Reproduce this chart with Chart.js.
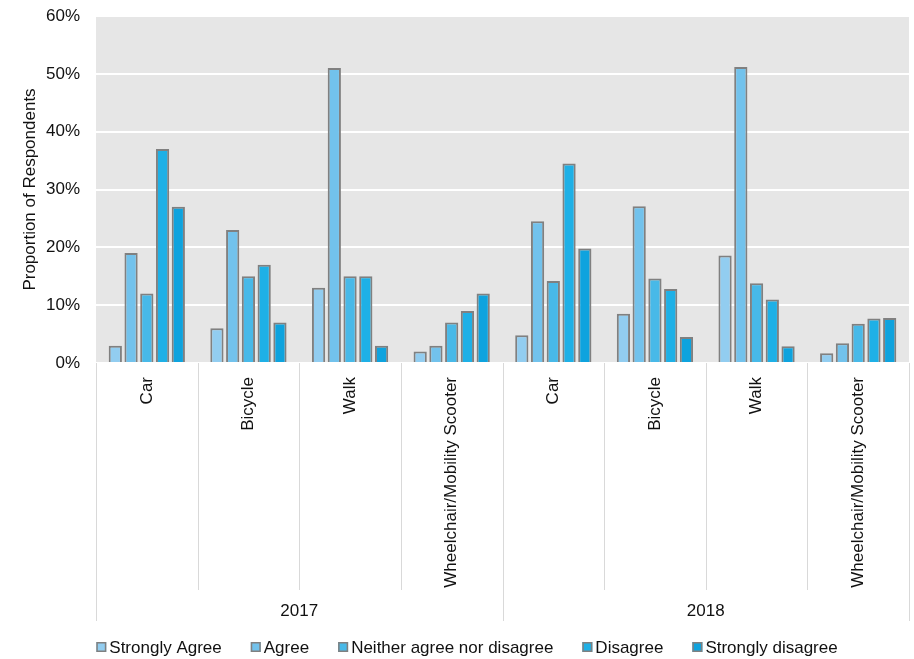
<!DOCTYPE html>
<html>
<head>
<meta charset="utf-8">
<title>Proportion of Respondents</title>
<script src="https://cdn.jsdelivr.net/npm/chart.js@4/dist/chart.umd.min.js"></script>
<style>
  html, body { margin: 0; padding: 0; background: #fff; }
  canvas { display: block; }
</style>
</head>
<body>
<canvas id="myChart" width="914" height="659"></canvas>
<script>
// modes of travel, repeated once per survey year
const modes = ['Car', 'Bicycle', 'Walk', 'Wheelchair/Mobility Scooter'];
const years = ['2017', '2018'];
const labels = [...modes, ...modes];

// percentage of respondents per answer (2017 then 2018)
const stronglyAgree    = [3, 6, 13, 2, 4.8, 8.5, 18.6, 1.7];
const agree            = [19, 23, 51, 3, 24.5, 27.1, 51.2, 3.4];
const neither          = [12, 15, 15, 7, 14.2, 14.6, 13.8, 6.8];
const disagree         = [37, 17, 15, 9, 34.5, 12.8, 11.0, 7.7];
const stronglyDisagree = [27, 7, 3, 12, 19.8, 4.5, 2.9, 7.8];

const FONT = "'Liberation Sans', Arial, sans-serif";
const TEXT = '#111';
const EDGE = '#808080';

const makeSet = (label, data, color) => ({
    label,
    data,
    backgroundColor: color,
    borderColor: EDGE,
    borderWidth: 2,
    categoryPercentage: 0.775,
    barPercentage: 0.84
});

// grey plot background, category/year separators, year labels and legend
const excelLook = {
    id: 'excelLook',
    beforeDraw(chart) {
        const { ctx, chartArea: a } = chart;
        ctx.save();
        ctx.fillStyle = '#e6e6e6';
        ctx.fillRect(a.left, a.top, a.right - a.left, a.bottom - a.top);
        ctx.restore();
    },
    afterDraw(chart) {
        const { ctx, chartArea: a } = chart;
        const x = chart.scales.x;
        const n = labels.length;
        const w = (x.right - x.left) / n;
        const inner = a.bottom + 227;
        const outer = a.bottom + 258;

        ctx.save();
        ctx.strokeStyle = '#d9d9d9';
        ctx.lineWidth = 1;
        for (let i = 0; i <= n; i++) {
            const px = Math.round(x.left + i * w) + 0.5;
            ctx.beginPath();
            ctx.moveTo(px, a.bottom);
            ctx.lineTo(px, i % modes.length === 0 ? outer : inner);
            ctx.stroke();
        }

        ctx.fillStyle = TEXT;
        ctx.font = '17px ' + FONT;
        ctx.textAlign = 'center';
        ctx.textBaseline = 'middle';
        years.forEach((yr, j) => {
            const cx = x.left + (j + 0.5) * modes.length * w;
            ctx.fillText(yr, cx, a.bottom + 248);
        });

        // legend row
        const sets = chart.data.datasets;
        const box = 10, gapText = 3, gapItem = 29;
        const widths = sets.map(d => ctx.measureText(d.label).width);
        const total = widths.reduce((s, v) => s + v + box + gapText, 0) + gapItem * (sets.length - 1);
        let lx = 467 - total / 2;
        const ly = 647;
        ctx.textAlign = 'left';
        sets.forEach((d, i) => {
            ctx.fillStyle = d.backgroundColor;
            ctx.fillRect(lx, ly - box / 2, box, box);
            ctx.strokeStyle = EDGE;
            ctx.lineWidth = 1.5;
            ctx.strokeRect(lx + 0.75, ly - box / 2 + 0.75, box - 1.5, box - 1.5);
            ctx.fillStyle = TEXT;
            ctx.fillText(d.label, lx + box + gapText, ly + 1);
            lx += box + gapText + widths[i] + gapItem;
        });
        ctx.restore();
    }
};

const chart = new Chart(document.getElementById('myChart'), {
    type: 'bar',
    data: {
        labels,
        datasets: [
            makeSet('Strongly Agree', stronglyAgree, '#92cdf0'),
            makeSet('Agree', agree, '#72c2ec'),
            makeSet('Neither agree nor disagree', neither, '#48b9e8'),
            makeSet('Disagree', disagree, '#1eb0e6'),
            makeSet('Strongly disagree', stronglyDisagree, '#0ea3de')
        ]
    },
    options: {
        responsive: false,
        animation: false,
        layout: {
            padding: { top: 16, right: 5, bottom: 69, left: 0 }
        },
        plugins: {
            legend: { display: false },
            tooltip: { enabled: false }
        },
        scales: {
            x: {
                grid: { display: false },
                border: { display: false },
                ticks: {
                    minRotation: 90,
                    maxRotation: 90,
                    padding: 6,
                    color: TEXT,
                    font: { family: FONT, size: 17 }
                },
                afterFit: (scale) => { scale.height = 227; }
            },
            y: {
                min: 0,
                max: 60,
                grid: {
                    color: '#ffffff',
                    lineWidth: 2,
                    drawTicks: false
                },
                border: { display: false },
                ticks: {
                    stepSize: 10,
                    padding: 16,
                    color: TEXT,
                    font: { family: FONT, size: 17 },
                    callback: (v) => v + '%'
                },
                title: {
                    display: true,
                    text: 'Proportion of Respondents',
                    color: TEXT,
                    font: { family: FONT, size: 17 },
                    padding: { top: 20, bottom: 0 }
                },
                afterFit: (scale) => {
                    scale.width = 96;
                    scale.paddingTop = 0;
                    scale.paddingBottom = 0;
                }
            }
        }
    },
    plugins: [excelLook]
});
</script>
</body>
</html>
